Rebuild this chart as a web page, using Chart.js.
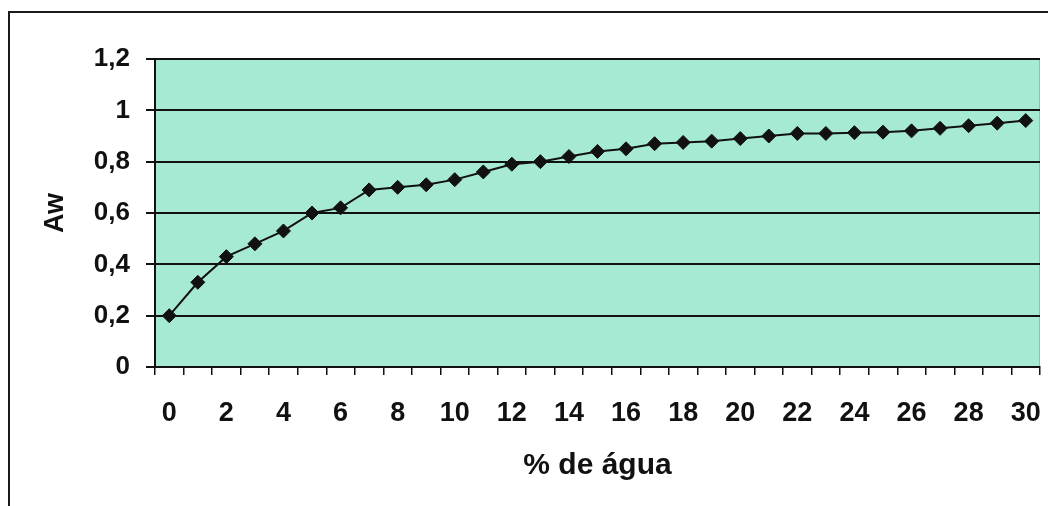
<!DOCTYPE html>
<html>
<head>
<meta charset="utf-8">
<script src="https://cdn.jsdelivr.net/npm/chart.js@4.4.1/dist/chart.umd.min.js"></script>
<style>
  html, body { margin: 0; padding: 0; background: #fff; }
  #wrap { position: relative; width: 1048px; height: 506px; }
  #frame {
    position: absolute; left: 8px; top: 11px; right: 0; bottom: 0;
    border-left: 2px solid #1a1a1a; border-top: 2px solid #1a1a1a;
  }
  canvas { position: absolute; left: 0; top: 0; }
</style>
</head>
<body>
<div id="wrap">
  <div id="frame"></div>
  <canvas id="grafico" width="1048" height="506"></canvas>
</div>
<script>
// % de água (eixo x)
const agua = [0, 1, 2, 3, 4, 5, 6, 7, 8, 9, 10, 11, 12, 13, 14, 15,
  16, 17, 18, 19, 20, 21, 22, 23, 24, 25, 26, 27, 28, 29, 30];

// atividade de água
const aw = [0.20, 0.33, 0.43, 0.48, 0.53, 0.60, 0.62, 0.69, 0.70, 0.71,
  0.73, 0.76, 0.79, 0.80, 0.82, 0.84, 0.85, 0.87, 0.875, 0.88,
  0.89, 0.90, 0.91, 0.91, 0.913, 0.915, 0.92, 0.93, 0.94, 0.95, 0.96];

const tituloX = "% de água";
const tituloY = "Aw";

const fonte = "'Liberation Sans', Arial, sans-serif";

// fundo verde da área de plotagem
const fundoPlot = {
  id: "fundoPlot",
  beforeDraw(chart) {
    const { ctx, chartArea: a } = chart;
    ctx.save();
    ctx.fillStyle = "#a7ead3";
    ctx.fillRect(a.left, a.top, a.right - a.left, a.bottom - a.top);
    ctx.strokeStyle = "#8fbfae";
    ctx.lineWidth = 1;
    ctx.beginPath();
    ctx.moveTo(a.left, a.top + 0.5);
    ctx.lineTo(a.right - 0.5, a.top + 0.5);
    ctx.lineTo(a.right - 0.5, a.bottom);
    ctx.stroke();
    ctx.restore();
  }
};

new Chart(document.getElementById("grafico"), {
  type: "line",
  data: {
    labels: agua,
    datasets: [{
      data: aw,
      borderColor: "#111",
      borderWidth: 2,
      backgroundColor: "#111",
      pointStyle: "rectRot",
      pointRadius: 7,
      pointBorderWidth: 1,
      pointBackgroundColor: "#111",
      pointBorderColor: "#111",
      tension: 0
    }]
  },
  options: {
    responsive: false,
    animation: false,
    layout: { padding: { left: 0, top: 59, right: 5, bottom: 0 } },
    plugins: {
      legend: { display: false },
      tooltip: { enabled: false }
    },
    scales: {
      x: {
        type: "category",
        offset: true,
        grid: {
          offset: true,
          drawOnChartArea: false,
          drawTicks: true,
          tickLength: 8,
          color: "#111",
          lineWidth: 1.5
        },
        border: { color: "#111", width: 2 },
        ticks: {
          autoSkip: false,
          maxRotation: 0,
          padding: 22,
          color: "#111",
          font: { family: fonte, size: 27, weight: "bold" },
          callback: (v, i) => (i % 2 === 0 ? agua[i] : "")
        },
        title: {
          display: true,
          text: tituloX,
          color: "#111",
          font: { family: fonte, size: 30, weight: "bold" },
          padding: { top: 0, bottom: 22 }
        },
        afterFit: s => {
          s.height = 139;
          s.paddingLeft = 0;
          s.paddingRight = 0;
        }
      },
      y: {
        min: 0,
        max: 1.2,
        ticks: {
          stepSize: 0.2,
          padding: 16,
          color: "#111",
          font: { family: fonte, size: 26, weight: "bold" },
          callback: v => String(Math.round(v * 10) / 10).replace(".", ",")
        },
        grid: {
          color: "#111",
          lineWidth: 2,
          tickLength: 9,
          drawTicks: true
        },
        border: { color: "#111", width: 2 },
        title: {
          display: true,
          text: tituloY,
          color: "#111",
          font: { family: fonte, size: 27, weight: "bold" },
          padding: { top: 39, bottom: 0 }
        },
        afterFit: s => { s.width = 155; }
      }
    }
  },
  plugins: [fundoPlot]
});
</script>
</body>
</html>
